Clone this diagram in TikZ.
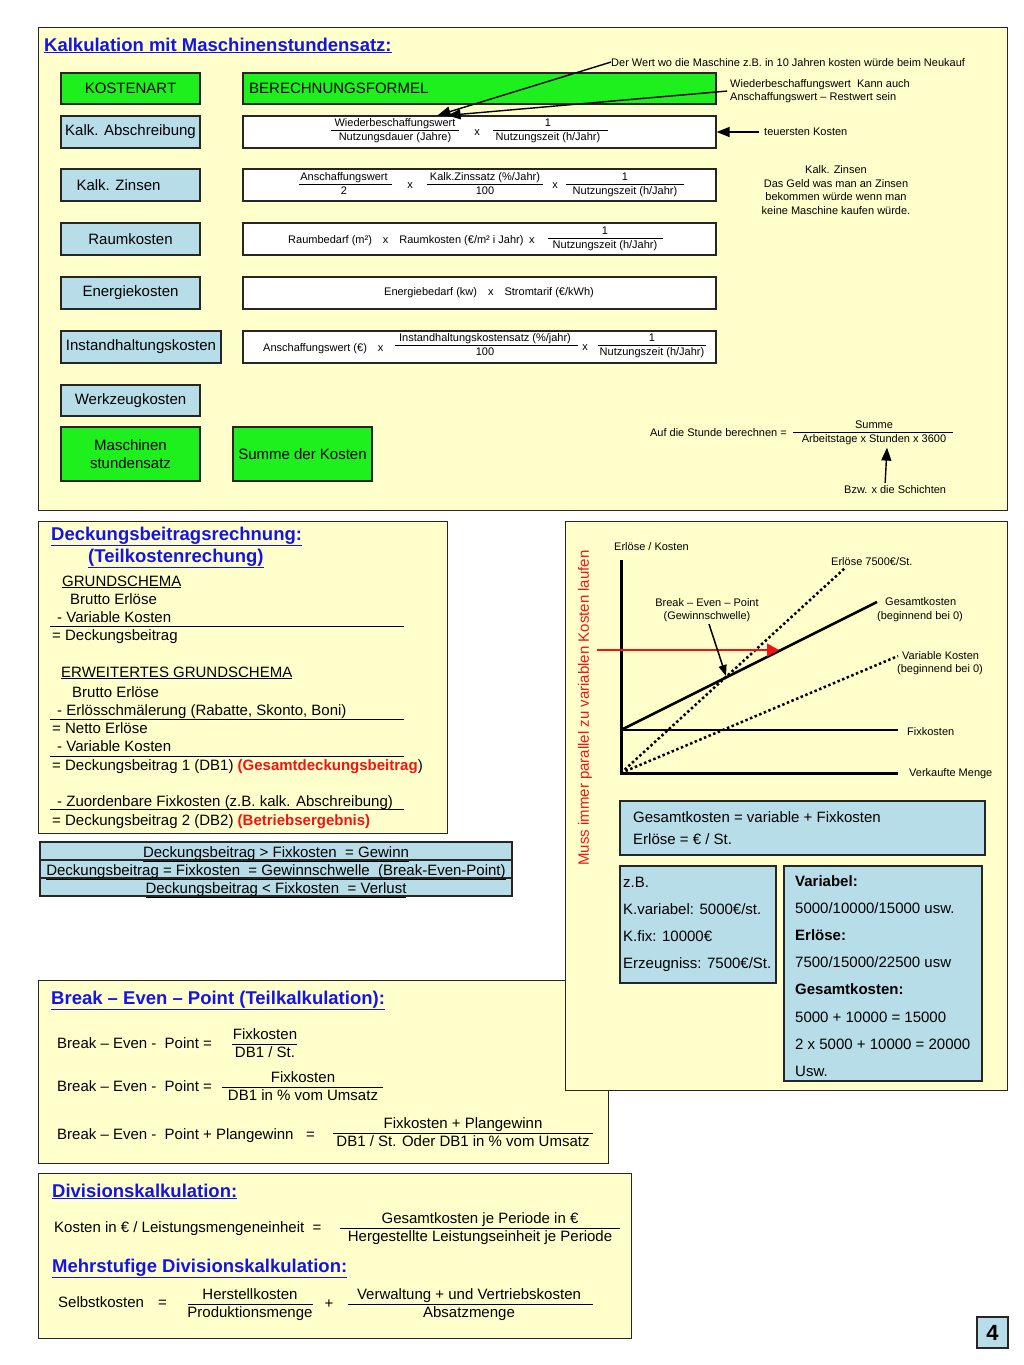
\documentclass[tikz,border=0pt]{standalone}
\usepackage{fontspec}
\setmainfont{Liberation Sans}
\usetikzlibrary{arrows.meta}
\definecolor{paper}{HTML}{FFFFCC}
\definecolor{grn}{HTML}{1EF01E}
\definecolor{lblue}{HTML}{B7DDE8}
\definecolor{ttlblue}{HTML}{1414E6}
\definecolor{rd}{HTML}{F01414}
\newcommand\fs[2]{\fontsize{#1}{#2}\selectfont}
\newcommand\ttl[1]{\textcolor{ttlblue}{\bfseries\underline{#1}}}
\newcommand\frc[8]{%
  \draw[fline] (#5,#4) -- (#6,#4);
  \node[txt,font=\fs{#2}{#2},anchor=base] (#1n) at (#3,{#4-0.3*#2}) {#7};
  \node[txt,font=\fs{#2}{#2},anchor=base] (#1d) at (#3,{#4+0.92*#2}) {#8};}
\begin{document}
\begin{tikzpicture}[x=1pt,y=-1pt,
  txt/.style={inner sep=0pt},
  panel/.style={draw=black!85,line width=1.3pt,fill=paper,inner sep=0pt,anchor=north west},
  gbox/.style={draw=black!85,line width=1.2pt,fill=grn,inner sep=0pt,align=center,font=\fs{15}{18}},
  bbox/.style={draw=black!85,line width=1.2pt,fill=lblue,inner sep=0pt,align=center,font=\fs{15}{18}},
  wbox/.style={draw=black!85,line width=1.2pt,fill=white,inner sep=0pt},
  fline/.style={line width=0.8pt},
  sepline/.style={line width=1pt},
  arr/.style={-{Triangle[length=13pt,width=10pt]},line width=1.4pt},
  f11/.style={txt,font=\fs{11}{11}},
  f15/.style={txt,font=\fs{15}{15}},
  f18/.style={txt,font=\fs{18.5}{18.5}},
]
\useasboundingbox[fill=white] (0,0) rectangle (1024,1365);

% ================= TOP PANEL =================
\node[panel,minimum width=969pt,minimum height=483pt] (top) at (38,27) {};
\node[f18,anchor=base west] (title1) at (44,51) {\ttl{Kalkulation mit Maschinenstundensatz:}};

\node[gbox,minimum width=139pt,minimum height=31pt] (kart) at (130.5,88.5) {KOSTENART};
\node[gbox,minimum width=473pt,minimum height=31pt] (bform) at (479.5,88.5) {};
\node[f15,anchor=west] (bformt) at (249,88.5) {BERECHNUNGSFORMEL};

\node[bbox,minimum width=139pt,minimum height=32pt] (k1) at (130.5,132) {Kalk. Abschreibung};
\node[bbox,minimum width=139pt,minimum height=32pt] (k2) at (130.5,185) {Kalk. Zinsen\hspace{24pt}};
\node[bbox,minimum width=139pt,minimum height=32pt] (k3) at (130.5,239) {Raumkosten};
\node[bbox,minimum width=139pt,minimum height=32pt] (k4) at (130.5,293) {Energiekosten};
\node[bbox,minimum width=160pt,minimum height=32pt] (k5) at (141,347) {Instandhaltungskosten};
\node[bbox,minimum width=139pt,minimum height=31pt] (k6) at (130.5,400.5) {Werkzeugkosten};
\node[gbox,minimum width=139pt,minimum height=54pt] (k7) at (130.5,454) {Maschinen\\stundensatz};
\node[gbox,minimum width=139pt,minimum height=54pt] (k8) at (302.5,454) {Summe der Kosten};

\node[wbox,minimum width=473pt,minimum height=32pt] (f1) at (479.5,132) {};
\node[wbox,minimum width=473pt,minimum height=32pt] (f2) at (479.5,185) {};
\node[wbox,minimum width=473pt,minimum height=32pt] (f3) at (479.5,239) {};
\node[wbox,minimum width=473pt,minimum height=32pt] (f4) at (479.5,293) {};
\node[wbox,minimum width=473pt,minimum height=32pt] (f5) at (479.5,347) {};

% formula 1
\frc{fa}{11}{395}{130}{331}{459}{Wiederbeschaffungswert}{Nutzungsdauer (Jahre)}
\node[f11] (fax) at (477,133) {x};
\frc{fb}{11}{548}{130}{493}{608}{1}{Nutzungszeit (h/Jahr)}
% formula 2
\frc{fc}{11}{344}{184}{299}{392}{Anschaffungswert}{2}
\node[f11] (fcx) at (410,186) {x};
\frc{fd}{11}{485}{184}{427}{543}{Kalk.Zinssatz (\%/Jahr)}{100}
\node[f11] (fdx) at (555,186) {x};
\frc{fe}{11}{625}{184}{566}{684}{1}{Nutzungszeit (h/Jahr)}
% formula 3
\node[f11,anchor=base west] (ft3) at (288,243.5) {Raumbedarf (m²)\quad x\quad Raumkosten (€/m² i Jahr)\enspace x};
\frc{ff}{11}{605}{238}{548}{663}{1}{Nutzungszeit (h/Jahr)}
% formula 4
\node[f11] (ft4) at (489,293) {Energiebedarf (kw)\quad x\quad Stromtarif (€/kWh)};
% formula 5
\node[f11,anchor=base west] (ft5) at (263,351) {Anschaffungswert (€)\quad x};
\frc{fg}{11}{485}{345}{395}{578}{Instandhaltungskostensatz (\%/jahr)}{100}
\node[f11] (fgx) at (585,348) {x};
\frc{fh}{11}{652}{345}{598}{706}{1}{Nutzungszeit (h/Jahr)}

% notes
\node[f11,anchor=base west] (n1) at (611,66) {Der Wert wo die Maschine z.B. in 10 Jahren kosten würde beim Neukauf};
\node[txt,font=\fs{11}{13.5},align=left,anchor=north west] (n2) at (730,79) {Wiederbeschaffungswert~~Kann auch\\Anschaffungswert – Restwert sein};
\node[f11,anchor=west] (n3) at (764,132) {teuersten Kosten};
\node[txt,font=\fs{11}{13.5},align=center] (n4) at (836,190) {Kalk. Zinsen\\Das Geld was man an Zinsen\\bekommen würde wenn man\\keine Maschine kaufen würde.};
\draw[arr] (n1.west) -- ([xshift=-42pt]f1.north);
\draw[arr] ([xshift=-3pt]n2.west) -- ([xshift=-32pt]f1.north);
\draw[arr] ([xshift=-5pt]n3.west) -- (f1.east);

\node[f11,anchor=base east] (n5) at (787,436) {Auf die Stunde berechnen =};
\frc{fs}{11}{874}{432}{793}{953}{Summe}{Arbeitstage x Stunden x 3600}
\node[f11,anchor=base west] (n6) at (844,493) {Bzw. x die Schichten};
\draw[arr] ([xshift=-10pt,yshift=2pt]n6.north) -- ([xshift=13pt,yshift=-3pt]fsd.south);

% ================= DECKUNGSBEITRAG PANEL =================
\node[panel,minimum width=409pt,minimum height=312pt] (db) at (38,521) {};
\node[f18,anchor=base west] (dbt1) at (51,540) {\ttl{Deckungsbeitragsrechnung:}};
\node[f18,anchor=base west] (dbt2) at (88,562) {\ttl{(Teilkostenrechung)}};
\node[f15,anchor=base west] (g1) at (62,586) {\underline{GRUNDSCHEMA}};
\node[f15,anchor=base west] (g2) at (70,604) {Brutto Erlöse};
\node[f15,anchor=base west] (g3) at (57,622) {- Variable Kosten};
\node[f15,anchor=base west] (g4) at (52,640) {= Deckungsbeitrag};
\node[f15,anchor=base west] (e1) at (61,677) {\underline{ERWEITERTES GRUNDSCHEMA}};
\node[f15,anchor=base west] (e2) at (72,697) {Brutto Erlöse};
\node[f15,anchor=base west] (e3) at (57,715.5) {- Erlösschmälerung (Rabatte, Skonto, Boni)};
\node[f15,anchor=base west] (e4) at (52,733) {= Netto Erlöse};
\node[f15,anchor=base west] (e5) at (57,751.5) {- Variable Kosten};
\node[f15,anchor=base west] (e6) at (52,770.5) {= Deckungsbeitrag 1 (DB1) {\color{rd}\bfseries (Gesamtdeckungsbeitrag}{)}};
\node[f15,anchor=base west] (e7) at (57,806.5) {- Zuordenbare Fixkosten (z.B. kalk. Abschreibung)};
\node[f15,anchor=base west] (e8) at (52,825) {= Deckungsbeitrag 2 (DB2) {\color{rd}\bfseries (Betriebsergebnis)}};
\draw[sepline] (50,626) -- (404,626);
\draw[sepline] (50,719) -- (404,719);
\draw[sepline] (50,756) -- (404,756);
\draw[sepline] (50,809.5) -- (404,809.5);

\node[bbox,minimum width=472pt,minimum height=18pt] (r1) at (276,851) {};
\node[bbox,minimum width=472pt,minimum height=18pt] (r2) at (276,869) {};
\node[bbox,minimum width=472pt,minimum height=18pt] (r3) at (276,887) {};
\node[f15,anchor=base] (r1t) at (276,857) {\underline{Deckungsbeitrag > Fixkosten~~= Gewinn}};
\node[f15,anchor=base] (r2t) at (276,875) {\underline{Deckungsbeitrag = Fixkosten~~= Gewinnschwelle~~(Break-Even-Point)}};
\node[f15,anchor=base] (r3t) at (276,893) {\underline{Deckungsbeitrag < Fixkosten~~= Verlust}};

% ================= BREAK EVEN PANEL =================
\node[panel,minimum width=570pt,minimum height=183pt] (be) at (38,980) {};
\node[f18,anchor=base west] (bet) at (51,1004) {\ttl{Break – Even – Point (Teilkalkulation):}};
\node[f15,anchor=base west] (be1) at (57,1048) {Break – Even -\ \ Point =};
\frc{bfa}{15}{265}{1044}{232}{297}{Fixkosten}{DB1 / St.}
\node[f15,anchor=base west] (be2) at (57,1091) {Break – Even -\ \ Point =};
\frc{bfb}{15}{303}{1087}{222}{383}{Fixkosten}{DB1 in \% vom Umsatz}
\node[f15,anchor=base west] (be3) at (57,1139) {Break – Even -\ \ Point + Plangewinn\ \ \ =};
\frc{bfc}{15}{463}{1133}{333}{593}{Fixkosten + Plangewinn}{DB1 / St. Oder DB1 in \% vom Umsatz}

% ================= RIGHT PANEL (CHART) =================
\node[panel,minimum width=442pt,minimum height=569pt] (rp) at (565,521) {};
\node[f15,text=rd,rotate=90] (muss) at (585,708) {Muss immer parallel zu variablen Kosten laufen};

\coordinate (O) at (621,773);
\coordinate (Ytop) at (621,560);
\coordinate (Xend) at (898,773);
\coordinate (F0) at (621,730);
\coordinate (Fend) at (898,730);
\coordinate (Gend) at (877,602);
\coordinate (Eend) at (845,568);
\coordinate (Vend) at (898,656);
\coordinate (R0) at (597,650);
\coordinate (R1) at (779,650);
\coordinate (bep) at (726,676);

\draw[line width=1.5pt] (F0) -- (Fend);
\draw[line width=2.5pt] (F0) -- (Gend);
\draw[line width=2.5pt,dash pattern=on 2.5pt off 2.5pt] (O) -- (Eend);
\draw[line width=2.5pt,dash pattern=on 2.5pt off 2.5pt] (O) -- (Vend);
\draw[line width=3pt] (Ytop) -- (O) -- (Xend);
\draw[rd,line width=1.3pt,-{Triangle[length=12pt,width=13pt]}] (R0) -- (R1);

\node[f11,anchor=base west] (lEK) at (614,550) {Erlöse / Kosten};
\node[f11,anchor=base west] (lE) at (831,565) {Erlöse 7500€/St.};
\node[txt,font=\fs{11}{13.5},align=center] (lBEP) at (707,610) {Break – Even – Point\\(Gewinnschwelle)};
\node[f11,anchor=base west] (lG1) at (885,605) {Gesamtkosten};
\node[f11,anchor=base west] (lG2) at (877,619) {(beginnend bei 0)};
\node[f11,anchor=base west] (lV1) at (902,659) {Variable Kosten};
\node[f11,anchor=base west] (lV2) at (897,672) {(beginnend bei 0)};
\node[f11,anchor=base west] (lF) at (907,735) {Fixkosten};
\node[f11,anchor=base west] (lM) at (909,776) {Verkaufte Menge};
\draw[line width=1.5pt,-{Triangle[length=11pt,width=8pt]}] ([xshift=2pt,yshift=-2pt]lBEP.south) -- (bep);

\node[bbox,minimum width=365pt,minimum height=54pt] (gk) at (802.5,828) {};
\node[f15,anchor=base west] (gk1) at (633,822) {Gesamtkosten = variable + Fixkosten};
\node[f15,anchor=base west] (gk2) at (633,844) {Erlöse = € / St.};

\node[bbox,minimum width=156pt,minimum height=117pt] (zb) at (698,924.5) {};
\node[f15,anchor=base west] (zb1) at (623,887) {z.B.};
\node[f15,anchor=base west] (zb2) at (623,914) {K.variabel: 5000€/st.};
\node[f15,anchor=base west] (zb3) at (623,941) {K.fix: 10000€};
\node[f15,anchor=base west] (zb4) at (623,968) {Erzeugniss: 7500€/St.};

\node[bbox,minimum width=198pt,minimum height=215pt] (vb) at (883,973.5) {};
\node[f15,anchor=base west] (vb1) at (795,886) {\bfseries Variabel:};
\node[f15,anchor=base west] (vb2) at (795,913) {5000/10000/15000 usw.};
\node[f15,anchor=base west] (vb3) at (795,940) {\bfseries Erlöse:};
\node[f15,anchor=base west] (vb4) at (795,967) {7500/15000/22500 usw};
\node[f15,anchor=base west] (vb5) at (795,994) {\bfseries Gesamtkosten:};
\node[f15,anchor=base west] (vb6) at (795,1022) {5000 + 10000 = 15000};
\node[f15,anchor=base west] (vb7) at (795,1049) {2 x 5000 + 10000 = 20000};
\node[f15,anchor=base west] (vb8) at (795,1076) {Usw.};

% ================= DIVISION PANEL =================
\node[panel,minimum width=593pt,minimum height=165pt] (dv) at (38,1173) {};
\node[f18,anchor=base west] (dvt) at (52,1197) {\ttl{Divisionskalkulation:}};
\node[f15,anchor=base west] (dv1) at (54,1232) {Kosten in € / Leistungsmengeneinheit\ \ =};
\frc{dvf}{15}{480}{1228}{340}{620}{Gesamtkosten je Periode in €}{Hergestellte Leistungseinheit je Periode}
\node[f18,anchor=base west] (mdt) at (52,1272) {\ttl{Mehrstufige Divisionskalkulation:}};
\node[f15,anchor=base west] (sk) at (58,1307) {Selbstkosten\hspace{14pt}=};
\frc{ska}{15}{250}{1304}{188}{313}{Herstellkosten}{Produktionsmenge}
\node[f15] (plus) at (329,1304) {+};
\frc{skb}{15}{469}{1304}{348}{593}{Verwaltung + und Vertriebskosten}{Absatzmenge}

% page number
\node[bbox,minimum width=31pt,minimum height=31pt,font=\fs{22}{22}\bfseries] (pg) at (992.5,1332.5) {4};
\end{tikzpicture}
\end{document}
